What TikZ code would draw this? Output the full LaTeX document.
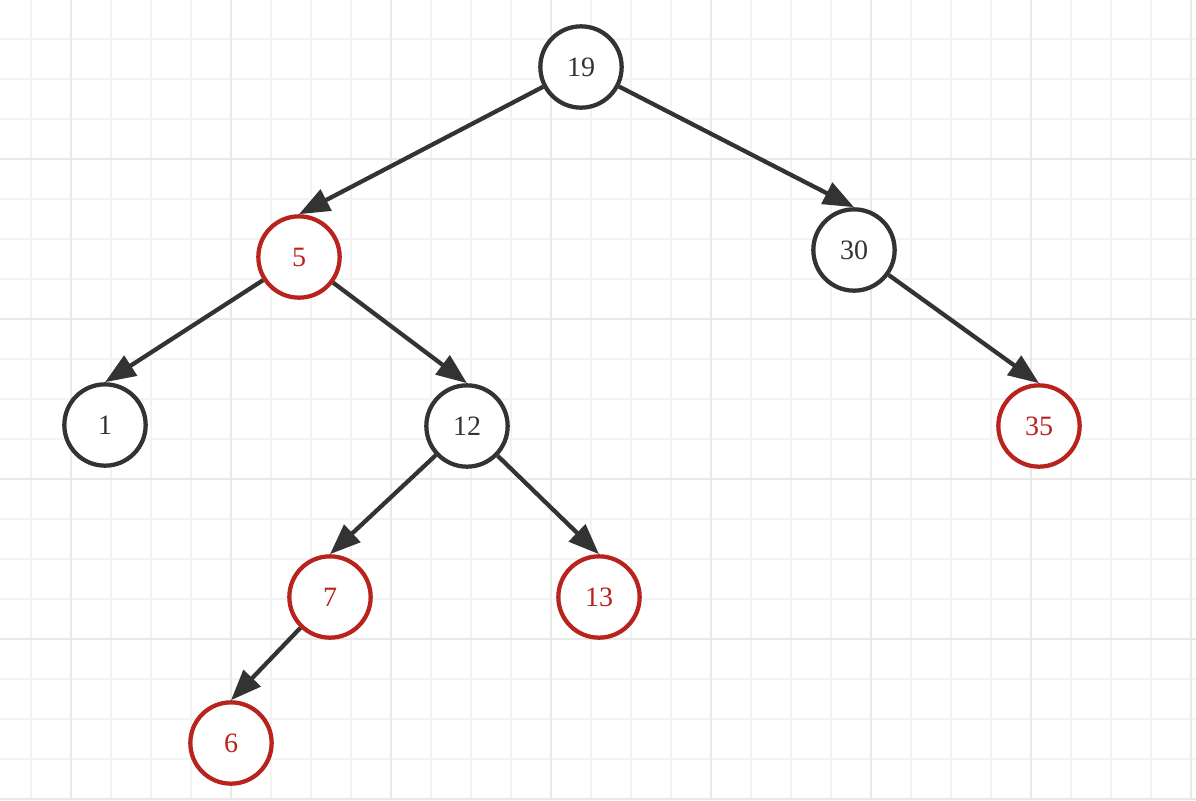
\documentclass[tikz,border=0pt]{standalone}
\usepackage{fontspec}
\setmainfont{Liberation Serif}
\usetikzlibrary{arrows.meta}
\definecolor{dk}{HTML}{333333}
\definecolor{rd}{HTML}{B9231D}
\definecolor{gminor}{HTML}{F3F3F3}
\definecolor{gmajor}{HTML}{E9E9E9}
\tikzset{
  bnode/.style={draw=dk, line width=3.2pt, circle, minimum size=61pt, inner sep=0pt, text=dk, font=\fontsize{21}{21}\selectfont, fill=white},
  rnode/.style={bnode, draw=rd, text=rd},
  edge/.style={draw=dk, line width=3.2pt, -{Triangle[length=23pt,width=17.5pt]}}
}
\begin{document}
\begin{tikzpicture}[x=0.75pt,y=-0.75pt]
\useasboundingbox (0,0) rectangle (1196,800);
\fill[white] (0,0) rectangle (1196,800);
% minor grid
\foreach \i in {0,...,29} {
  \draw[gminor, line width=1.5pt] ({31+40*\i},0) -- ({31+40*\i},800);
}
\foreach \j in {0,...,19} {
  \draw[gminor, line width=1.5pt] (0,{39+40*\j}) -- (1196,{39+40*\j});
}
% major grid
\foreach \i in {0,...,7} {
  \draw[gmajor, line width=2pt] ({71+160*\i},0) -- ({71+160*\i},800);
}
\foreach \j in {0,...,4} {
  \draw[gmajor, line width=2pt] (0,{159+160*\j}) -- (1196,{159+160*\j});
}
% nodes
\node[bnode] (n19) at (581,67) {19};
\node[rnode] (n5) at (299,257) {5};
\node[bnode] (n30) at (854,250) {30};
\node[bnode] (n1) at (105,425) {1};
\node[bnode] (n12) at (467,426) {12};
\node[rnode] (n35) at (1039,426) {35};
\node[rnode] (n7) at (330,597) {7};
\node[rnode] (n13) at (599,597) {13};
\node[rnode] (n6) at (231,743) {6};
% edges
\draw[edge] (n19) -- (n5.north);
\draw[edge] (n19) -- (n30.north);
\draw[edge] (n5) -- (n1.north);
\draw[edge] (n5) -- (n12.north);
\draw[edge] (n30) -- (n35.north);
\draw[edge] (n12) -- (n7.north);
\draw[edge] (n12) -- (n13.north);
\draw[edge] (n7) -- (n6.north);
\end{tikzpicture}
\end{document}
